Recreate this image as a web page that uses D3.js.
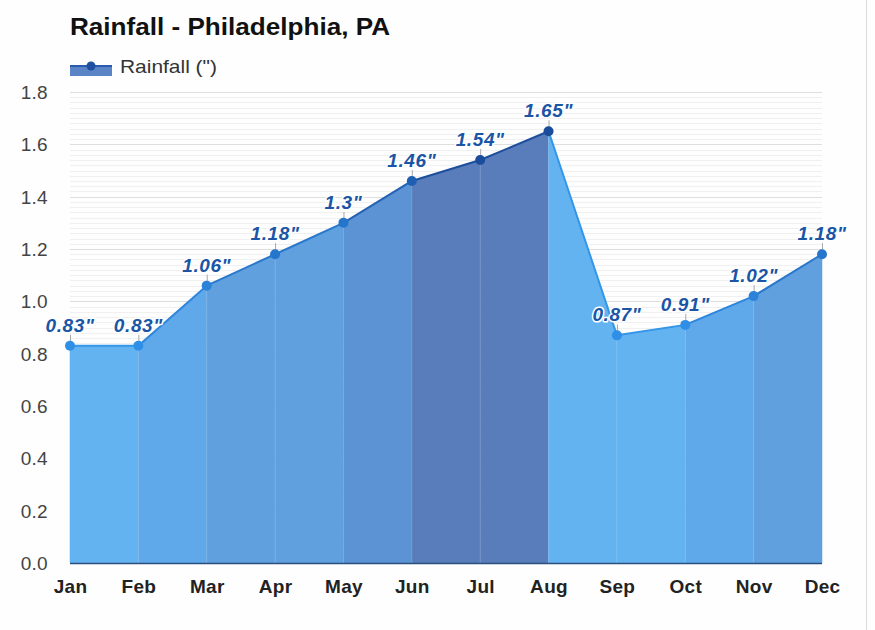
<!DOCTYPE html>
<html><head><meta charset="utf-8">
<script src="https://cdn.jsdelivr.net/npm/d3@7"></script>
<style>
html,body{margin:0;padding:0;background:#fdfefd;}
svg{display:block;font-family:"Liberation Sans",Arial,sans-serif;}
</style></head>
<body><svg id="c" width="875" height="630"></svg>
<script>
const months = ["Jan","Feb","Mar","Apr","May","Jun","Jul","Aug","Sep","Oct","Nov","Dec"];
const rainfall = [0.83,0.83,1.06,1.18,1.3,1.46,1.54,1.65,0.87,0.91,1.02,1.18];
const yTicks = [0,0.2,0.4,0.6,0.8,1.0,1.2,1.4,1.6,1.8];
const thresholds = [1.0,1.1,1.4,1.5];
const fillColors = ["#5fb1f1","#5aa6ea","#5b9ddd","#5690d3","#5379b8"];
const lineColors = ["#3596e8","#2e86dc","#2a78cc","#2462b4","#1f4e9c"];
const dotColors  = ["#2f8fe6","#2b82d9","#2575cc","#1f5fb3","#1b4b9b"];

(function(){
const svg = d3.select("#c");
const W = 875, H = 630;
const pL = 70, pR = 822, pT = 92, pB = 563;

const x = d3.scalePoint().domain(months).range([pL, pR]);
const y = d3.scaleLinear().domain([0, 1.8]).range([pB, pT]);
const cFill = d3.scaleThreshold().domain(thresholds).range(fillColors);
const cLine = d3.scaleThreshold().domain(thresholds).range(lineColors);
const cDot = d3.scaleThreshold().domain(thresholds).range(dotColors);

// right border
svg.append("line").attr("x1",866.5).attr("x2",866.5).attr("y1",0).attr("y2",H)
  .attr("stroke","#dcdcdc").attr("stroke-width",1);

// minor gridlines
const minor = d3.range(0, 1.8001, 0.02);
svg.append("g").selectAll("line").data(minor).join("line")
  .attr("x1",pL).attr("x2",pR)
  .attr("y1",d=>Math.round(y(d))+0.5).attr("y2",d=>Math.round(y(d))+0.5)
  .attr("stroke","#f0f0f0").attr("stroke-width",1);
// major gridlines
svg.append("g").selectAll("line").data(yTicks).join("line")
  .attr("x1",pL).attr("x2",pR)
  .attr("y1",d=>Math.round(y(d))+0.5).attr("y2",d=>Math.round(y(d))+0.5)
  .attr("stroke","#dedede").attr("stroke-width",1);

// y axis labels
const yAxis = d3.axisLeft(y).tickValues(yTicks).tickFormat(d3.format(".1f")).tickSize(0).tickPadding(0);
const ya = svg.append("g").attr("transform",`translate(48,0)`).call(yAxis);
ya.select(".domain").remove();
ya.selectAll("text").attr("font-size",19).attr("fill","#444").attr("letter-spacing","0.3px")
  .attr("font-family","Liberation Sans, Arial, sans-serif").attr("dy","0.34em");

// area segments
const segs = d3.range(months.length-1).map(i => ({i, a: rainfall[i], b: rainfall[i+1]}));
const area = d3.area().x(d=>d[0]).y0(pB).y1(d=>d[1]);
svg.append("g").selectAll("path").data(segs).join("path")
  .attr("d", s => area([[x(months[s.i]), y(s.a)], [x(months[s.i+1]), y(s.b)]]))
  .attr("fill", s => cFill(s.b)).attr("fill-opacity",0.97)
  .attr("stroke", s => cFill(s.b)).attr("stroke-width",0.5);

// faint vertical separators
svg.append("g").selectAll("line").data(months.slice(1,-1)).join("line")
  .attr("x1",d=>x(d)).attr("x2",d=>x(d))
  .attr("y1",(d,i)=>y(rainfall[i+1])).attr("y2",pB)
  .attr("stroke","#ffffff").attr("stroke-opacity",0.18).attr("stroke-width",1);

// line segments
svg.append("g").selectAll("line").data(segs).join("line")
  .attr("x1", s=>x(months[s.i])).attr("y1", s=>y(s.a))
  .attr("x2", s=>x(months[s.i+1])).attr("y2", s=>y(s.b))
  .attr("stroke", s=>cLine(s.b)).attr("stroke-width",2).attr("stroke-linecap","round");

// x axis base line
svg.append("line").attr("x1",pL).attr("x2",pR).attr("y1",pB+0.5).attr("y2",pB+0.5)
  .attr("stroke","#2d4f80").attr("stroke-width",1.5);

// x axis labels
const xAxis = d3.axisBottom(x).tickSize(0).tickPadding(0);
const xa = svg.append("g").attr("transform",`translate(0,${pB})`).call(xAxis);
xa.select(".domain").remove();
xa.selectAll("text").attr("font-size",19).attr("font-weight","bold").attr("fill","#222")
  .attr("letter-spacing","0.3px")
  .attr("font-family","Liberation Sans, Arial, sans-serif").attr("dy",0).attr("y",30);

// label ticks
const pts = months.map((m,i)=>({m, v: rainfall[i]}));
svg.append("g").selectAll("line").data(pts).join("line")
  .attr("x1",d=>x(d.m)+0.5).attr("x2",d=>x(d.m)+0.5)
  .attr("y1",d=>y(d.v)-11).attr("y2",d=>y(d.v)-3)
  .attr("stroke","#a8a8a8").attr("stroke-width",1);

// markers
svg.append("g").selectAll("circle").data(pts).join("circle")
  .attr("cx",d=>x(d.m)).attr("cy",d=>y(d.v)).attr("r",5)
  .attr("fill",d=>cDot(d.v));

// value labels
svg.append("g").selectAll("text").data(pts).join("text")
  .attr("x",d=>x(d.m)).attr("y",d=>y(d.v)-14)
  .attr("text-anchor","middle").attr("font-size",19).attr("font-weight","bold").attr("font-style","italic")
  .attr("letter-spacing","0.6px")
  .attr("fill","#1a55a6").attr("stroke","#ffffff").attr("stroke-width",3).attr("paint-order","stroke")
  .attr("stroke-linejoin","round")
  .text(d=>d.v+'"');

// title
svg.append("text").attr("x",70).attr("y",35).attr("font-size",23).attr("font-weight","bold")
  .attr("fill","#111").attr("textLength",320).attr("lengthAdjust","spacingAndGlyphs")
  .text("Rainfall - Philadelphia, PA");

// legend
svg.append("rect").attr("x",70).attr("y",66).attr("width",42).attr("height",10).attr("fill","#5a84c6");
svg.append("line").attr("x1",70).attr("x2",112).attr("y1",66).attr("y2",66).attr("stroke","#2a5cad").attr("stroke-width",2);
svg.append("circle").attr("cx",91).attr("cy",66).attr("r",4.5).attr("fill","#1f4fa0");
svg.append("text").attr("x",120).attr("y",73).attr("font-size",19).attr("fill","#333")
  .attr("textLength",97).attr("lengthAdjust","spacingAndGlyphs").text('Rainfall (")');
})();
</script></body></html>
